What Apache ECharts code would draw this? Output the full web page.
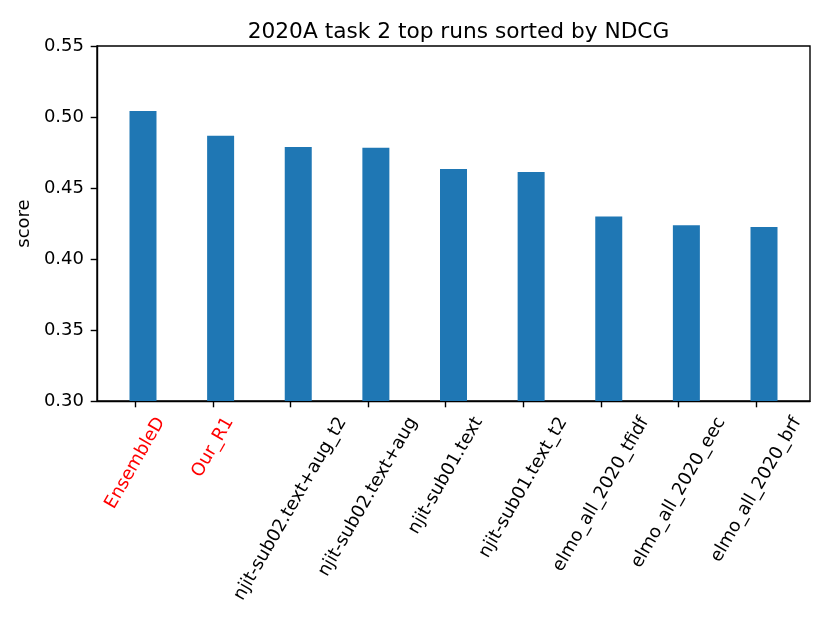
<!DOCTYPE html>
<html><head><meta charset="utf-8">
<script src="https://cdn.jsdelivr.net/npm/echarts@6/dist/echarts.min.js"></script>
<style>html,body{margin:0;padding:0;background:#fff}#c{width:830px;height:623px}</style>
</head><body><div id="c"></div>
<script>
const categories = ['EnsembleD','Our_R1','njit-sub02.text+aug_t2','njit-sub02.text+aug','njit-sub01.text','njit-sub01.text_t2','elmo_all_2020_tfidf','elmo_all_2020_eec','elmo_all_2020_brf'];
const scores = [0.5042, 0.4868, 0.4789, 0.4784, 0.4634, 0.4613, 0.4300, 0.4237, 0.4225];
const highlighted = ['EnsembleD','Our_R1'];
const yTicks = [0.30, 0.35, 0.40, 0.45, 0.50, 0.55];

const FONT = '"DejaVu Sans", sans-serif';
const Y_MIN = 0.30, Y_MAX = 0.55;
const BAR_OFFSET = 0.1;
const ctx = document.createElement('canvas').getContext('2d');
ctx.font = '18px "DejaVu Sans"';
function textWidth(s){ return ctx.measureText(s).width; }

const chart = echarts.init(document.getElementById('c'), null, {renderer:'canvas'});
const option = {
  animation: false,
  backgroundColor: '#fff',
  title: {
    text: '2020A task 2 top runs sorted by NDCG',
    left: 453.5, textAlign: 'center', top: 16,
    textStyle: {fontFamily: FONT, fontSize: 21.7, fontWeight: 'normal', color: '#000'}
  },
  grid: {left: 97, right: 20, top: 46, bottom: 222, show: true, borderColor: '#000', borderWidth: 1.4, backgroundColor: 'transparent'},
  xAxis: {
    type: 'value', min: -0.4925, max: 8.6925,
    splitLine: {show: false},
    axisLine: {show: true, onZero: false, lineStyle: {color: '#000', width: 1.4}},
    axisTick: {show: true, customValues: categories.map((_, i) => i), length: 6.3, lineStyle: {color: '#000', width: 1.4}},
    axisLabel: {show: false}
  },
  yAxis: {
    type: 'value', min: Y_MIN, max: Y_MAX, interval: 0.05,
    name: 'score', nameLocation: 'middle', nameGap: 55, nameRotate: 90,
    nameTextStyle: {fontFamily: FONT, fontSize: 18, color: '#000'},
    splitLine: {show: false},
    axisLine: {show: true, onZero: false, lineStyle: {color: '#000', width: 1.4}},
    axisTick: {show: true, customValues: yTicks, length: 6.3, lineStyle: {color: '#000', width: 1.4}},
    axisLabel: {show: true, customValues: yTicks, margin: 13, fontSize: 18, color: '#000', fontFamily: FONT, formatter: v => v.toFixed(2)}
  },
  series: [
    {
      type: 'bar',
      data: scores.map((v, i) => [i + BAR_OFFSET, v]),
      barWidth: 27,
      itemStyle: {color: '#1f77b4'},
      clip: true
    },
    {
      type: 'custom',
      silent: true,
      clip: false,
      z: 10,
      data: categories.map((c, i) => [i, Y_MIN]),
      renderItem: (params, api) => {
        const i = api.value(0);
        const p = api.coord([i, Y_MIN]);
        const name = categories[i];
        const L = textWidth(name);
        const h = 21;
        const a = Math.PI / 3;
        const top = p[1] + 12.6;
        const cy = top + (L * Math.sin(a) + h * Math.cos(a)) / 2;
        return {
          type: 'text', x: p[0], y: cy, rotation: a,
          style: {text: name, fontSize: 18, fontFamily: FONT, fill: highlighted.includes(name) ? '#ff0000' : '#000', align: 'center', verticalAlign: 'middle'}
        };
      }
    }
  ]
};
chart.setOption(option);
</script></body></html>
